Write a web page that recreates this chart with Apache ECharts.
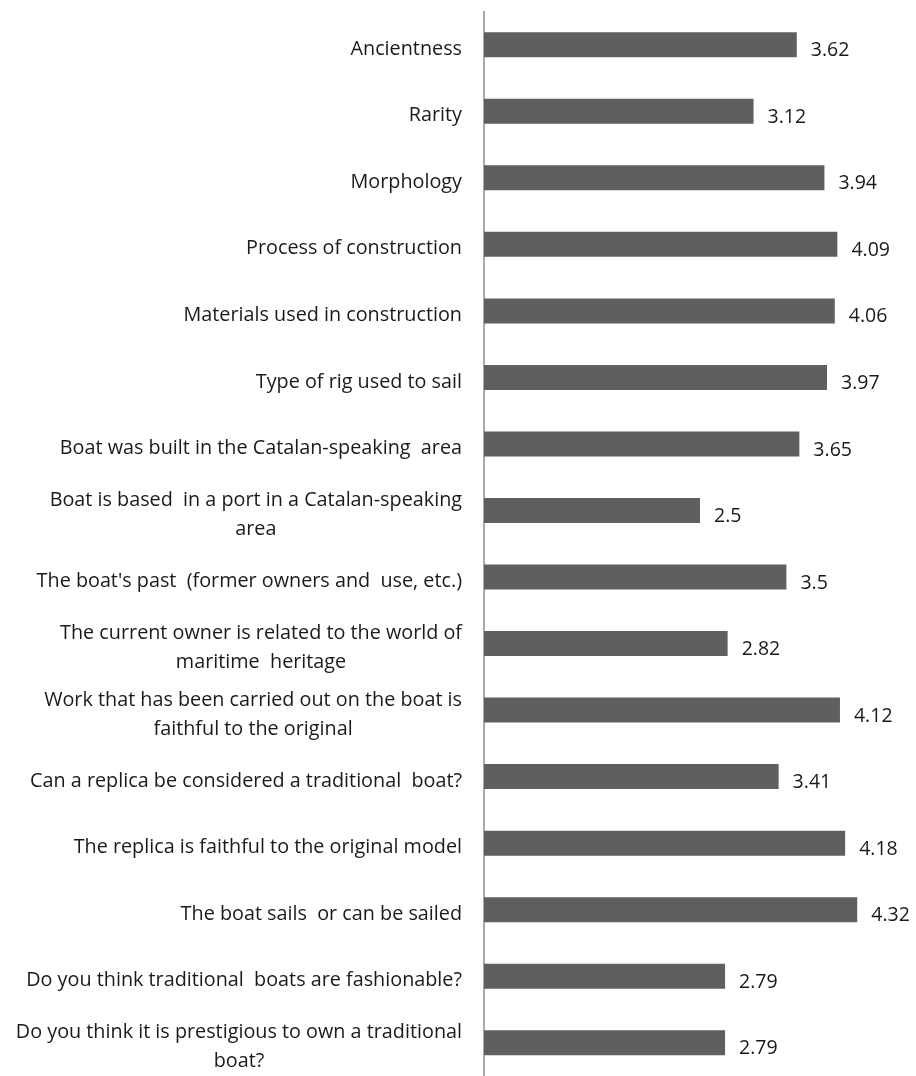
<!DOCTYPE html>
<html>
<head>
<meta charset="utf-8">
<script src="https://cdn.jsdelivr.net/npm/echarts@6/dist/echarts.min.js"></script>
<style>
html,body{margin:0;padding:0;background:#fff;}
#chart{width:916px;height:1076px;}
</style>
</head>
<body>
<div id="chart"></div>
<script>
const categories = [
  "Ancientness",
  "Rarity",
  "Morphology",
  "Process of construction",
  "Materials used in construction",
  "Type of rig used to sail",
  "Boat was built in the Catalan-speaking  area",
  "Boat is based  in a port in a Catalan-speaking\narea",
  "The boat's past  (former owners and  use, etc.)",
  "The current owner is related to the world of\nmaritime  heritage",
  "Work that has been carried out on the boat is\nfaithful to the original",
  "Can a replica be considered a traditional  boat?",
  "The replica is faithful to the original model",
  "The boat sails  or can be sailed",
  "Do you think traditional  boats are fashionable?",
  "Do you think it is prestigious to own a traditional\nboat?"
];
const values = [3.62, 3.12, 3.94, 4.09, 4.06, 3.97, 3.65, 2.5, 3.5, 2.82, 4.12, 3.41, 4.18, 4.32, 2.79, 2.79];

const chart = echarts.init(document.getElementById('chart'));
chart.setOption({
  animation: false,
  backgroundColor: '#ffffff',
  grid: { left: 484, top: 11.5, width: 433, height: 1073.6, containLabel: false },
  xAxis: {
    type: 'value', min: 0, max: 5,
    axisLine: { show: false }, axisTick: { show: false },
    axisLabel: { show: false }, splitLine: { show: false }
  },
  yAxis: {
    type: 'category', data: categories, inverse: true,
    axisLine: { show: true, lineStyle: { color: '#8c8c8c', width: 1.5 } },
    axisTick: { show: false },
    axisLabel: {
      margin: 22,
      padding: [9, 0, 0, 0],
      formatter: function (v) {
        return v.split('\n').map(function (l) { return '{c|' + l + '}'; }).join('\n');
      },
      rich: {
        c: { align: 'center', fontFamily: 'Open Sans', fontSize: 19.8, color: '#1a1a1a', lineHeight: 29 }
      }
    }
  },
  series: [{
    type: 'bar', data: values, barWidth: 25,
    itemStyle: { color: '#5f5f5f' },
    label: {
      show: true, position: 'right', distance: 14,
      fontFamily: 'Open Sans', fontSize: 19.5, color: '#1a1a1a',
      offset: [0, 6]
    }
  }]
});
</script>
</body>
</html>
